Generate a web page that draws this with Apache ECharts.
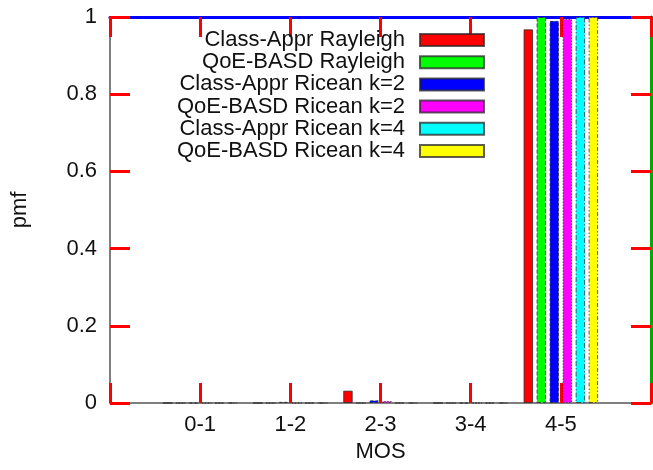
<!DOCTYPE html>
<html>
<head>
<meta charset="utf-8">
<script src="https://cdn.jsdelivr.net/npm/echarts@6/dist/echarts.min.js"></script>
<style>
  html, body { margin: 0; padding: 0; background: #ffffff; }
  #chart { width: 653px; height: 470px; }
</style>
</head>
<body>
<div id="chart"></div>
<script>
// MOS bins (blank slots pad the axis so the bins sit one unit in from each edge)
const mosBins = ['', '0-1', '1-2', '2-3', '3-4', '4-5', ''];
const yTicks = [0, 0.2, 0.4, 0.6, 0.8, 1];

// pmf per MOS bin (0-1, 1-2, 2-3, 3-4, 4-5)
const classApprRayleigh = [0, 0, 0.032, 0, 0.968];
const qoeBasdRayleigh   = [0, 0, 0, 0, 1.0];
const classApprRicean2  = [0, 0.003, 0.007, 0, 0.99];
const qoeBasdRicean2    = [0, 0, 0.005, 0, 0.995];
const classApprRicean4  = [0, 0, 0, 0, 1.0];
const qoeBasdRicean4    = [0, 0, 0, 0, 1.0];

const seriesNames = [
  'Class-Appr Rayleigh',
  'QoE-BASD Rayleigh',
  'Class-Appr Ricean k=2',
  'QoE-BASD Ricean k=2',
  'Class-Appr Ricean k=4',
  'QoE-BASD Ricean k=4'
];
const seriesValues = [
  classApprRayleigh, qoeBasdRayleigh, classApprRicean2,
  qoeBasdRicean2, classApprRicean4, qoeBasdRicean4
];
const colors = ['#ff0000', '#00ff00', '#0000ff', '#ff00ff', '#00ffff', '#ffff00'];
const dashes = ['solid', [4, 2], [3, 2], [1.5, 1.5], [5, 2, 1.5, 2], [4, 2, 1.5, 2, 1.5, 2]];

const FONT = '"Liberation Sans", Arial, sans-serif';
const AXIS_COLOR = '#555555';
const TICK_COLOR = '#ff0000';
const TEXT_COLOR = '#111111';

const chart = echarts.init(document.getElementById('chart'));

const series = seriesNames.map((name, i) => ({
  name: name,
  type: 'bar',
  barWidth: 9.5,
  barGap: '37%',
  data: [null].concat(seriesValues[i]).concat([null]),
  itemStyle: {
    color: colors[i],
    borderColor: 'rgba(40,40,40,0.75)',
    borderWidth: 1,
    borderType: dashes[i]
  }
}));

chart.setOption({
  animation: false,
  grid: { left: 110, right: 2, top: 17, bottom: 67, outerBoundsMode: 'none' },
  legend: {
    orient: 'vertical',
    align: 'right',
    right: 168,
    top: 29,
    padding: 0,
    itemGap: 0.2,
    itemWidth: 64,
    itemHeight: 12,
    icon: 'rect',
    selectedMode: false,
    data: seriesNames,
    textStyle: { fontFamily: FONT, fontSize: 22, color: TEXT_COLOR, lineHeight: 22, padding: [0, 10, 0, 0] }
  },
  xAxis: [
    {
      type: 'category', data: mosBins, boundaryGap: false, position: 'bottom',
      name: 'MOS', nameLocation: 'middle', nameGap: 31,
      nameTextStyle: { fontFamily: FONT, fontSize: 22, color: TEXT_COLOR },
      axisLine: { onZero: false, lineStyle: { color: AXIS_COLOR, width: 1.5 } },
      axisTick: { show: true, inside: true, length: 20, interval: 0, lineStyle: { color: TICK_COLOR, width: 3 } },
      axisLabel: { interval: 0, margin: 11, fontFamily: FONT, fontSize: 22, color: TEXT_COLOR }
    },
    {
      type: 'category', data: mosBins, boundaryGap: false, position: 'top',
      axisLine: { onZero: false, lineStyle: { color: '#0000ff', width: 3 } },
      axisTick: { show: true, inside: true, length: 20, interval: 0, lineStyle: { color: TICK_COLOR, width: 3 } },
      axisLabel: { color: 'rgba(0,0,0,0)', fontSize: 1 }
    }
  ],
  yAxis: [
    {
      type: 'value', min: yTicks[0], max: yTicks[yTicks.length - 1], interval: 0.2, position: 'left',
      name: 'pmf', nameLocation: 'middle', nameGap: 79, nameRotate: 90,
      nameTextStyle: { fontFamily: FONT, fontSize: 22, color: TEXT_COLOR },
      axisLine: { show: true, onZero: false, lineStyle: { color: AXIS_COLOR, width: 1.5 } },
      axisTick: { show: true, inside: true, length: 20, lineStyle: { color: TICK_COLOR, width: 3 } },
      axisLabel: {
        margin: 13, fontFamily: FONT, fontSize: 22, color: TEXT_COLOR,
        formatter: v => String(Math.round(v * 10) / 10)
      },
      splitLine: { show: false }
    },
    {
      type: 'value', min: yTicks[0], max: yTicks[yTicks.length - 1], interval: 0.2, position: 'right',
      axisLine: { show: true, onZero: false, lineStyle: { color: '#00aa00', width: 3 } },
      axisTick: { show: true, inside: true, length: 20, lineStyle: { color: TICK_COLOR, width: 3 } },
      axisLabel: { color: 'rgba(0,0,0,0)', fontSize: 1 },
      splitLine: { show: false }
    }
  ],
  series: series
});
</script>
</body>
</html>
